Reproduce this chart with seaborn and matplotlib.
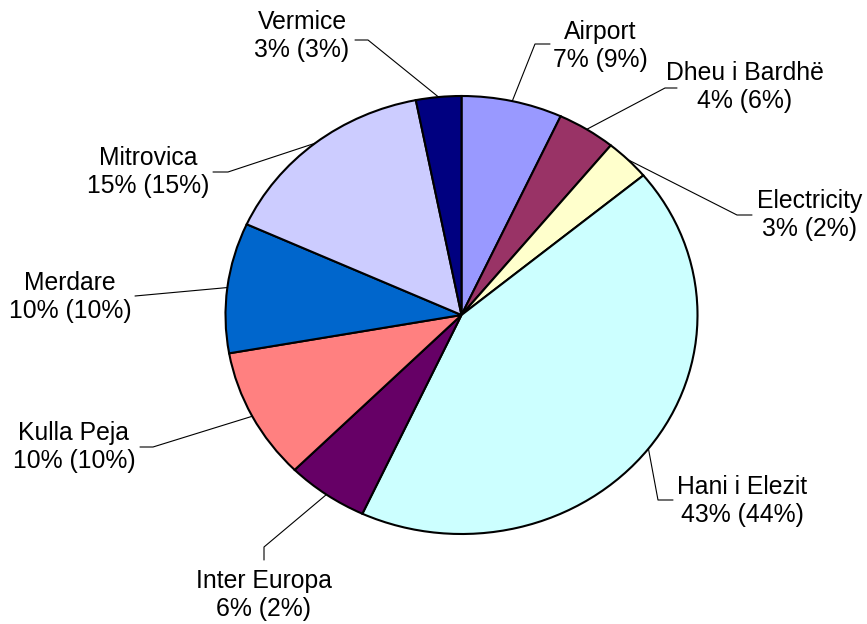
import matplotlib
matplotlib.use("Agg")
import matplotlib.pyplot as plt
import seaborn as sns
import numpy as np

# Data
stations = ["Airport", "Dheu i Bardhë", "Electricity", "Hani i Elezit", "Inter Europa",
            "Kulla Peja", "Merdare", "Mitrovica", "Vermice"]
shares = [6.9, 4.0, 3.1, 42.9, 5.6, 9.7, 9.6, 15.1, 3.1]
pct_now = [7, 4, 3, 43, 6, 10, 10, 15, 3]
pct_prev = [9, 6, 2, 44, 2, 10, 10, 15, 3]
colors = ["#9999FF", "#993366", "#FFFFCC", "#CCFFFF", "#660066",
          "#FF8080", "#0066CC", "#CCCCFF", "#000080"]

sns.set_style("white")
plt.rcParams['font.family'] = ['Liberation Sans', 'DejaVu Sans']

W, H = 867, 624
fig = plt.figure(figsize=(W / 100, H / 100), dpi=100)
# pie box in pixels: x 225.5..697.5, y 96..534 (elliptical, like the original)
cx, cy, rx, ry = 461.5, 315, 236, 219
ax = fig.add_axes([(cx - rx) / W, (H - (cy + ry)) / H, 2 * rx / W, 2 * ry / H])

wedges, _ = ax.pie(shares, colors=colors, startangle=90, counterclock=False,
                   wedgeprops=dict(edgecolor="black", linewidth=1.5))
ax.set_aspect("auto")
ax.set_xlim(-1, 1)
ax.set_ylim(-1, 1)
ax.axis("off")


def px(x, y):
    # pixel position -> pie data coords
    return (x - cx) / rx, (cy - y) / ry


# label layout: elbow, end of leader, text centre (pixels)
layout = [
    ((535, 44), (550, 44), (600, 46)),
    ((665, 88), (677, 88), (745, 87)),
    ((737, 215), (752, 215), (810, 215)),
    ((658, 500), (673, 500), (742, 501)),
    ((264, 547), (264, 560), (264, 595)),
    ((153, 447), (140, 447), (74, 447)),
    ((135, 296), (135, 296), (70, 297)),
    ((228, 172), (213, 172), (148, 172)),
    ((368, 40), (355, 40), (302, 36)),
]

for w, name, a, b, (elbow, end, txt) in zip(wedges, stations, pct_now, pct_prev, layout):
    mid = np.deg2rad((w.theta1 + w.theta2) / 2)
    x0, y0 = np.cos(mid), np.sin(mid)
    ex, ey = px(*elbow)
    fx, fy = px(*end)
    ax.plot([x0, ex, fx], [y0, ey, fy], color="black", lw=0.8, clip_on=False)
    tx, ty = px(*txt)
    ax.text(tx, ty, f"{name}\n{a}% ({b}%)", ha="center", va="center",
            fontsize=17.8, linespacing=1.2, color="black", clip_on=False)

fig.savefig("out.png", dpi=100)
